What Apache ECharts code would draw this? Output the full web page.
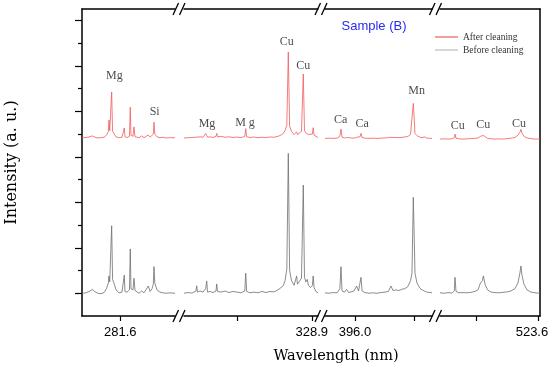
<!DOCTYPE html>
<html><head><meta charset="utf-8">
<script src="https://cdn.jsdelivr.net/npm/echarts@6/dist/echarts.min.js"></script>
<style>html,body{margin:0;padding:0;background:#fff}#c{width:550px;height:367px}</style>
</head><body><div id="c"></div>
<script>
// ---------- DATA ----------
const seriesNames = ['After cleaning', 'Before cleaning'];

// Segment 1 (around 281.6 nm)
const wl1 = [274.90,275.60,276.30,276.71,277.18,277.70,278.23,278.76,279.19,279.51,279.63,279.76,279.93,280.10,280.26,280.51,280.86,281.38,281.91,282.19,282.31,282.43,282.79,283.22,283.36,283.48,283.84,284.01,284.19,284.54,284.89,285.36,285.77,286.12,286.52,286.82,287.17,287.40,287.52,287.66,288.04,288.57,289.10,289.62,290.33,291.20];
const before1 = [1.00,1.02,1.10,1.17,1.06,1.00,0.98,1.03,1.20,1.45,1.76,1.50,1.55,3.97,1.60,1.45,1.15,1.02,1.05,1.10,1.80,1.08,1.05,1.15,2.95,1.20,1.15,1.66,1.12,1.05,1.00,1.10,1.02,1.05,1.32,1.08,1.20,1.40,2.17,1.44,1.15,1.05,1.02,1.00,1.02,1.00];
const after1 = [7.84,7.85,7.88,7.92,7.86,7.83,7.84,7.86,7.95,8.10,8.62,8.15,8.10,9.85,8.12,8.02,7.88,7.84,7.86,7.90,8.27,7.88,7.85,7.90,9.18,7.95,7.90,8.32,7.88,7.85,7.84,7.92,7.84,7.86,7.96,7.86,7.92,8.00,8.52,8.00,7.88,7.84,7.86,7.83,7.84,7.84];

// Segment 2 (around 328.9 nm)
const wl2 = [306.40,307.10,307.81,308.51,308.64,308.78,309.22,309.75,310.22,310.40,310.54,310.98,311.51,312.04,312.16,312.30,312.92,313.62,314.33,315.03,315.73,316.43,317.11,317.27,317.43,318.02,318.73,319.43,320.14,320.84,321.55,322.25,322.96,323.49,323.89,324.19,324.51,324.77,325.00,325.34,325.78,326.13,326.24,326.38,326.73,327.09,327.41,327.62,327.87,328.10,328.31,328.66,329.01,329.15,329.31,329.63,330.00];
const before2 = [1.00,1.03,1.01,1.10,1.33,1.05,1.10,1.05,1.20,1.54,1.05,1.08,1.03,1.10,1.41,1.08,1.05,1.10,1.03,1.08,1.05,1.02,1.10,1.88,1.08,1.02,1.05,1.02,1.08,1.03,1.08,1.06,1.15,1.25,1.33,1.55,2.05,7.15,2.00,1.55,1.35,1.40,1.76,1.40,1.45,1.66,5.76,1.70,1.50,1.61,1.35,1.25,1.35,1.76,1.25,1.08,1.02];
const after2 = [7.83,7.84,7.85,7.86,7.90,7.85,7.88,7.86,8.03,7.95,7.86,7.88,7.85,7.90,8.03,7.88,7.90,7.86,7.88,7.85,7.87,7.84,7.90,8.24,7.88,7.85,7.87,7.84,7.86,7.85,7.87,7.86,7.90,7.96,8.03,8.15,8.39,11.61,8.35,8.12,7.98,8.00,8.10,7.98,8.00,8.12,10.64,8.15,8.05,8.06,7.98,7.95,8.00,8.28,7.95,7.88,7.85];

// Segment 3 (around 396.0 nm)
const wl3 = [390.80,391.50,392.19,392.89,393.38,393.58,393.76,394.19,394.57,394.89,395.32,395.84,396.31,396.63,396.89,397.06,397.24,397.75,398.45,399.14,399.84,400.53,401.23,401.83,402.27,402.62,403.14,403.66,404.18,404.70,405.22,405.66,405.92,406.15,406.27,406.44,406.79,407.31,407.66,408.06,408.53,409.40];
const before3 = [1.02,1.00,1.03,1.02,1.20,2.17,1.10,1.05,1.17,1.03,1.06,1.10,1.32,1.10,1.15,1.70,1.10,1.03,1.00,1.02,1.00,1.03,1.05,1.08,1.32,1.12,1.15,1.12,1.18,1.20,1.30,1.55,1.88,5.22,3.90,1.88,1.45,1.22,1.15,1.10,1.05,1.02];
const after3 = [7.81,7.82,7.81,7.82,7.90,8.22,7.86,7.83,7.85,7.82,7.83,7.82,7.86,7.84,7.88,8.03,7.85,7.82,7.81,7.82,7.81,7.82,7.83,7.84,7.86,7.85,7.85,7.84,7.86,7.87,7.90,7.98,8.03,9.35,8.84,8.03,7.93,7.86,7.84,7.88,7.82,7.81];

// Segment 4 (around 523.6 nm)
const wl4 = [506.90,507.58,508.26,508.94,509.34,509.46,509.63,510.14,510.82,511.50,512.19,512.87,513.38,513.81,514.12,514.29,514.58,515.00,515.60,516.28,516.96,517.64,518.32,519.00,519.68,520.19,520.53,520.70,520.87,521.21,521.73,522.41,523.10,523.95];
const before4 = [1.02,1.00,1.03,1.01,1.10,1.70,1.08,1.02,1.03,1.02,1.04,1.08,1.15,1.46,1.55,1.76,1.40,1.15,1.05,1.03,1.02,1.04,1.06,1.10,1.20,1.45,1.90,2.20,1.80,1.40,1.15,1.05,1.02,1.00];
const after4 = [7.78,7.79,7.78,7.79,7.84,8.00,7.82,7.79,7.78,7.79,7.80,7.81,7.83,7.90,7.96,7.94,7.86,7.81,7.79,7.78,7.79,7.78,7.80,7.82,7.85,7.95,8.08,8.21,8.05,7.90,7.83,7.80,7.78,7.78];

// Axis ranges / ticks (wavelength, nm)
const segRange = [[274.9, 291.2], [306.4, 330.0], [390.8, 409.4], [506.9, 523.95]];
const tickValues = [[281.6], [315.7, 328.9], [396.0, 406.4], [513.0, 523.6]];
const tickLabels = [[281.6], [328.9], [396.0], [523.6]];
const yMajor = [1, 3, 5, 7, 9, 11, 13];
const yMinor = [2, 4, 6, 8, 10, 12];

// Element annotations: name, segment, wavelength, level
const annNames = ['Mg', 'Si', 'Mg', 'M g', 'Cu', 'Cu', 'Ca', 'Ca', 'Mn', 'Cu', 'Cu', 'Cu'];
const annSeg   = [0, 0, 1, 1, 1, 1, 2, 2, 2, 3, 3, 3];
const annWl    = [280.56, 287.64, 310.45, 317.14, 324.49, 327.41, 393.53, 397.28, 406.74, 509.92, 514.28, 520.37];
const annLevel = [10.55, 8.98, 8.44, 8.50, 12.04, 11.02, 8.62, 8.43, 9.91, 8.36, 8.40, 8.47];

// ---------- LAYOUT / STYLE ----------
const segPx = [[82, 175], [184, 318], [325, 432], [440, 540]];
const TOP = 9, BOTTOM = 316;
const RED = '#f05c5c', GRAY = '#6e6e6e';
const SERIF = 'Liberation Serif', SANS = 'Liberation Sans', WIDE_SERIF = 'DejaVu Serif';
const YMIN = 0, YMAX = 13.5;
const AXW = 1.5;

const wls = [wl1, wl2, wl3, wl4];
const befores = [before1, before2, before3, before4];
const afters = [after1, after2, after3, after4];

const grids = segPx.map(([a, b]) => ({left: a, width: b - a, top: TOP, height: BOTTOM - TOP, containLabel: false, outerBoundsMode: 'none'}));

const xAxes = [];
segRange.forEach((r, i) => {
  xAxes.push({
    type: 'value', gridIndex: i, position: 'bottom', min: r[0], max: r[1],
    axisLine: {show: true, onZero: false, lineStyle: {color: '#000', width: AXW}},
    axisTick: {show: true, inside: false, length: 5, customValues: tickValues[i], lineStyle: {color: '#000', width: 1.2}},
    axisLabel: {show: true, customValues: tickLabels[i], formatter: v => Number(v).toFixed(1), margin: 10,
      fontFamily: SANS, fontSize: 13, color: '#000', padding: i === 3 ? [0, 12, 0, 0] : 0},
    splitLine: {show: false}
  });
});
segRange.forEach((r, i) => {
  xAxes.push({
    type: 'value', gridIndex: i, position: 'top', min: r[0], max: r[1],
    axisLine: {show: true, onZero: false, lineStyle: {color: '#000', width: AXW}},
    axisTick: {show: false}, axisLabel: {show: false}, splitLine: {show: false}
  });
});

const yAxes = [
  {gridIndex: 0, type: 'value', position: 'left', min: YMIN, max: YMAX,
   axisLine: {show: true, onZero: false, lineStyle: {color: '#000', width: AXW}},
   axisTick: {show: true, inside: false, length: 7, customValues: yMajor, lineStyle: {color: '#000', width: 1.2}},
   axisLabel: {show: false}, splitLine: {show: false},
   name: 'Intensity (a. u.)', nameLocation: 'middle', nameGap: 62, nameRotate: 90,
   nameTextStyle: {fontFamily: WIDE_SERIF, fontSize: 16, color: '#000'}},
  {gridIndex: 1, type: 'value', show: false, min: YMIN, max: YMAX},
  {gridIndex: 2, type: 'value', show: false, min: YMIN, max: YMAX},
  {gridIndex: 3, type: 'value', position: 'right', min: YMIN, max: YMAX,
   axisLine: {show: true, onZero: false, lineStyle: {color: '#000', width: AXW}},
   axisTick: {show: false}, axisLabel: {show: false}, splitLine: {show: false}},
  {gridIndex: 0, type: 'value', position: 'left', min: YMIN, max: YMAX,
   axisLine: {show: false},
   axisTick: {show: true, inside: false, length: 4, customValues: yMinor, lineStyle: {color: '#000', width: 1.2}},
   axisLabel: {show: false}, splitLine: {show: false}}
];

const series = [];
for (let i = 0; i < 4; i++) {
  series.push({
    type: 'line', name: seriesNames[1], xAxisIndex: i, yAxisIndex: i,
    data: wls[i].map((w, k) => [w, befores[i][k]]),
    symbol: 'none', lineStyle: {color: GRAY, width: 0.8}, itemStyle: {color: GRAY}, silent: true
  });
  series.push({
    type: 'line', name: seriesNames[0], xAxisIndex: i, yAxisIndex: i,
    data: wls[i].map((w, k) => [w, afters[i][k]]),
    symbol: 'none', lineStyle: {color: RED, width: 0.8}, itemStyle: {color: RED}, silent: true
  });
  const ann = [];
  annNames.forEach((n, k) => { if (annSeg[k] === i) ann.push({name: n, value: [annWl[k], annLevel[k]]}); });
  series.push({
    type: 'scatter', name: 'ann' + i, xAxisIndex: i, yAxisIndex: i, data: ann,
    symbolSize: 1, itemStyle: {color: 'rgba(0,0,0,0)'}, silent: true,
    label: {show: true, position: 'inside', formatter: '{b}', fontFamily: SERIF, fontSize: 12, color: '#1a1a1a'}
  });
}

// Axis break marks ("//") between segments, top and bottom
const breakGraphics = [];
for (let i = 0; i < 3; i++) {
  const cx = (segPx[i][1] + segPx[i + 1][0]) / 2;
  [TOP, BOTTOM].forEach(y => {
    breakGraphics.push({type: 'line', shape: {x1: cx - 6.5, y1: y + 6, x2: cx - 1, y2: y - 6}, style: {stroke: '#000', lineWidth: 1.3}, silent: true});
    breakGraphics.push({type: 'line', shape: {x1: cx, y1: y + 6, x2: cx + 5.5, y2: y - 6}, style: {stroke: '#000', lineWidth: 1.3}, silent: true});
  });
}

const option = {
  backgroundColor: '#fff',
  animation: false,
  title: [
    {text: 'Sample (B)', left: 374, top: 20, textAlign: 'center', padding: 0,
     textStyle: {color: '#2a2af0', fontFamily: SANS, fontSize: 13, fontWeight: 'normal'}},
    {text: 'Wavelength (nm)', left: 336, top: 349, textAlign: 'center', padding: 0,
     textStyle: {color: '#000', fontFamily: WIDE_SERIF, fontSize: 14.5, fontWeight: 'normal'}}
  ],
  legend: {
    orient: 'vertical', left: 435, top: 32, padding: 0, itemGap: 3, itemWidth: 23, itemHeight: 1.2,
    selectedMode: false, icon: 'rect',
    data: [
      {name: seriesNames[0], icon: 'rect', itemStyle: {color: RED}},
      {name: seriesNames[1], icon: 'rect', itemStyle: {color: '#bdbdbd'}}
    ],
    textStyle: {fontFamily: SERIF, fontSize: 9.5, color: '#333'}
  },
  grid: grids,
  xAxis: xAxes,
  yAxis: yAxes,
  series: series,
  graphic: breakGraphics
};

const chart = echarts.init(document.getElementById('c'), null, {renderer: 'canvas', width: 550, height: 367});
chart.setOption(option);
</script>
</body></html>
